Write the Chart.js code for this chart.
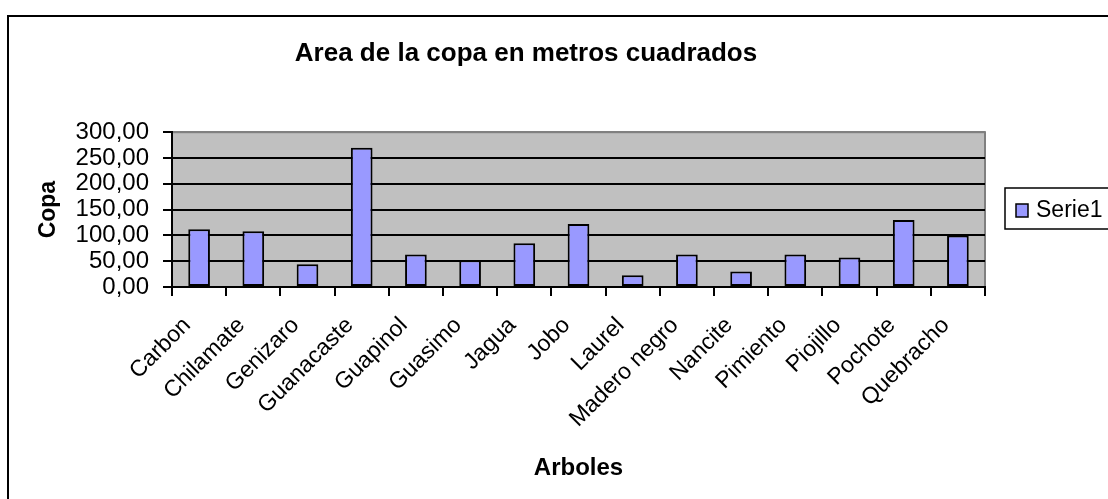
<!DOCTYPE html>
<html>
<head>
<meta charset="utf-8">
<script src="https://cdn.jsdelivr.net/npm/chart.js@4/dist/chart.umd.min.js"></script>
<style>
    html, body { margin: 0; padding: 0; background: #fff; overflow: hidden; }
    #frame { position: absolute; left: 7px; top: 15px; width: 1200px; height: 600px; border: 2px solid #000; }
    #wrap { position: absolute; left: 0; top: 0; width: 1108px; height: 499px; }
</style>
</head>
<body>
<div id="frame"></div>
<div id="wrap"><canvas id="chart" width="1108" height="499"></canvas></div>
<script>
// -------------------------
// Data
// -------------------------
const arboles = ['Carbon', 'Chilamate', 'Genizaro', 'Guanacaste', 'Guapinol', 'Guasimo', 'Jagua',
    'Jobo', 'Laurel', 'Madero negro', 'Nancite', 'Pimiento', 'Piojillo', 'Pochote', 'Quebracho'];
const copa = [112, 108, 44, 270, 63, 52, 85, 122, 23, 63, 30, 63, 57, 130, 100];
const serieName = 'Serie1';
const yMax = 300;
const yStep = 50;

const FONT = "'Liberation Sans', Arial, sans-serif";
const BAR = '#9999ff';

// -------------------------
// Plot background + legend box
// -------------------------
const plotArea = {
    id: 'plotArea',
    beforeDraw(chart) {
        const { ctx, chartArea: a } = chart;
        ctx.save();
        ctx.fillStyle = '#c0c0c0';
        ctx.fillRect(a.left, a.top, a.right - a.left, a.bottom - a.top);
        ctx.strokeStyle = '#808080';
        ctx.lineWidth = 2;
        ctx.strokeRect(a.left, a.top, a.right - a.left, a.bottom - a.top);
        ctx.restore();
    }
};

const boxLegend = {
    id: 'boxLegend',
    afterDraw(chart) {
        const ctx = chart.ctx;
        const ds = chart.data.datasets[0];
        ctx.save();
        ctx.lineWidth = 1.5;
        ctx.strokeStyle = '#000';
        ctx.strokeRect(1005, 188, 140, 41);
        ctx.fillStyle = ds.backgroundColor;
        ctx.fillRect(1016, 204, 12, 13);
        ctx.strokeRect(1016, 204, 12, 13);
        ctx.fillStyle = '#000';
        ctx.font = '23px ' + FONT;
        ctx.textBaseline = 'middle';
        ctx.fillText(ds.label, 1036, 211);
        ctx.restore();
    }
};

// -------------------------
// Chart
// -------------------------
new Chart(document.getElementById('chart').getContext('2d'), {
    type: 'bar',
    data: {
        labels: arboles,
        datasets: [{
            label: serieName,
            data: copa,
            backgroundColor: BAR,
            borderColor: '#000',
            borderWidth: 2,
            borderSkipped: false,
            categoryPercentage: 1,
            barPercentage: 0.4
        }]
    },
    options: {
        responsive: false,
        animation: false,
        events: [],
        layout: { padding: { left: 67, right: 123, top: 0, bottom: 20 } },
        plugins: {
            legend: { display: false },
            tooltip: { enabled: false },
            title: {
                display: true,
                text: 'Area de la copa en metros cuadrados',
                color: '#000',
                font: { family: FONT, size: 26, weight: 'bold' },
                padding: { top: 38, bottom: 63 }
            }
        },
        scales: {
            x: {
                afterFit: s => { s.height = 192; },
                grid: { drawOnChartArea: false, offset: true, color: '#000', tickLength: 9, lineWidth: 2 },
                border: { display: true, color: '#000', width: 2 },
                ticks: {
                    color: '#000', maxRotation: 45, minRotation: 45, autoSkip: false,
                    font: { family: FONT, size: 23 }, padding: 16, labelOffset: -12
                },
                title: {
                    display: true, text: 'Arboles', color: '#000',
                    font: { family: FONT, size: 24, weight: 'bold' },
                    padding: { top: 0, bottom: -4 }
                }
            },
            y: {
                min: 0, max: yMax,
                afterFit: s => { s.width = 105; },
                grid: {
                    color: c => (c.tick && c.tick.value === yMax ? '#808080' : '#000'),
                    tickColor: '#000', tickLength: 9, lineWidth: 2
                },
                border: { display: true, color: '#000', width: 2 },
                ticks: {
                    color: '#000', padding: 14, stepSize: yStep, autoSkip: false,
                    font: { family: FONT, size: 24 },
                    callback: v => v.toFixed(2).replace('.', ',')
                },
                title: {
                    display: true, text: 'Copa', color: '#000',
                    font: { family: FONT, size: 23, weight: 'bold' },
                    padding: { top: -32, bottom: 0 }
                }
            }
        }
    },
    plugins: [plotArea, boxLegend]
});
</script>
</body>
</html>
